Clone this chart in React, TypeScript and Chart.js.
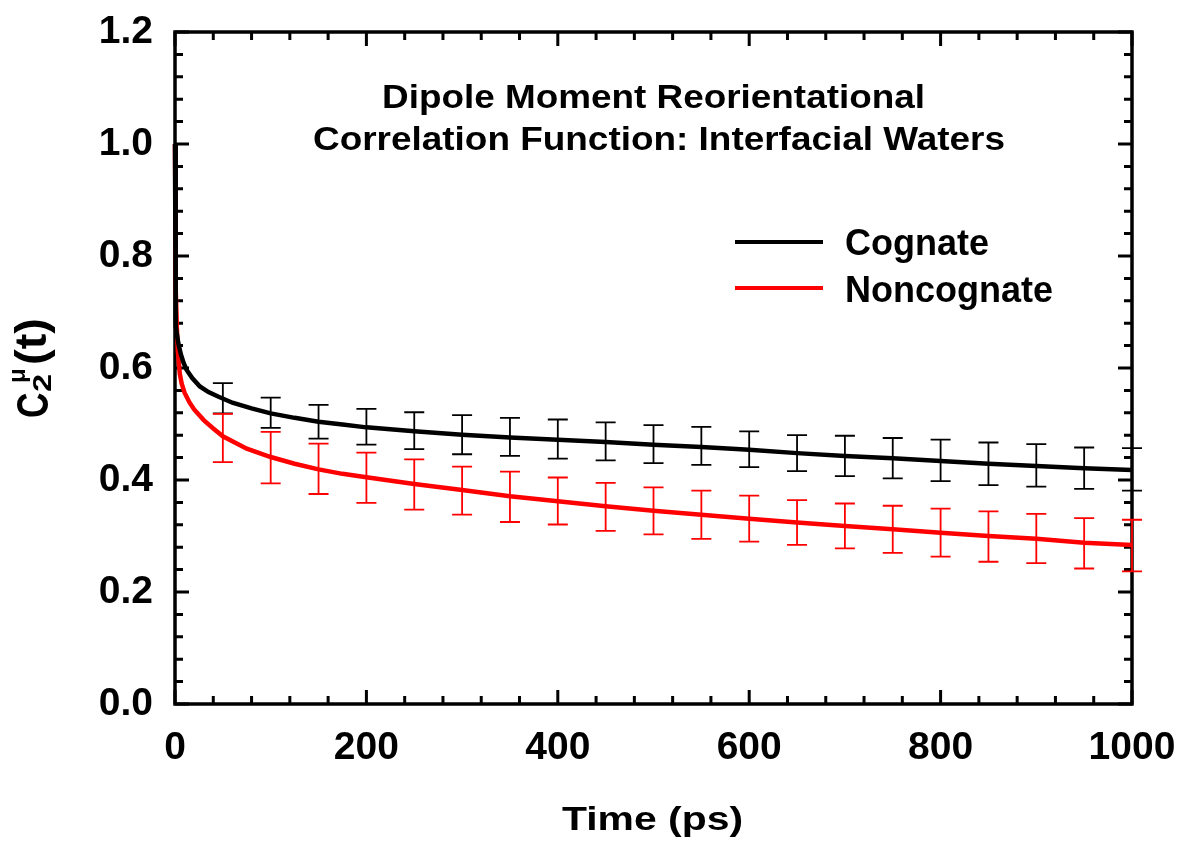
import React, { useEffect, useRef } from "react";
import { Chart, registerables } from "chart.js";

Chart.register(...registerables);

// Continuous curves (time in ps, C2 value)
const cognateTimes = [0, 0.5, 1, 2, 3.5, 6, 9, 12, 18, 26, 35, 45, 60, 80, 100, 125, 150, 175, 200, 250, 300, 350, 400, 450, 500, 550, 600, 650, 700, 750, 800, 850, 900, 950, 1000];
const cognateValues = [1.0, 0.72, 0.675, 0.66, 0.644, 0.625, 0.609, 0.597, 0.582, 0.567, 0.557, 0.549, 0.538, 0.528, 0.519, 0.511, 0.504, 0.499, 0.494, 0.487, 0.481, 0.476, 0.472, 0.468, 0.463, 0.459, 0.454, 0.448, 0.443, 0.439, 0.434, 0.429, 0.425, 0.421, 0.418];

const noncognateTimes = [0, 0.5, 1, 2, 3, 5, 7, 10, 15, 20, 30, 40, 50, 75, 100, 125, 150, 175, 200, 250, 300, 350, 400, 450, 500, 550, 600, 650, 700, 750, 800, 850, 900, 950, 1000];
const noncognateValues = [1.0, 0.84, 0.74, 0.67, 0.63, 0.59, 0.572, 0.556, 0.539, 0.526, 0.507, 0.492, 0.478, 0.456, 0.441, 0.429, 0.419, 0.411, 0.405, 0.393, 0.382, 0.371, 0.362, 0.353, 0.345, 0.338, 0.331, 0.324, 0.318, 0.312, 0.306, 0.300, 0.295, 0.288, 0.284];

// Error bars
const errTimes = [50, 100, 150, 200, 250, 300, 350, 400, 450, 500, 550, 600, 650, 700, 750, 800, 850, 900, 950, 1000];
const cognateMean = [0.546, 0.520, 0.504, 0.495, 0.488, 0.481, 0.477, 0.473, 0.469, 0.464, 0.461, 0.455, 0.448, 0.443, 0.439, 0.435, 0.429, 0.426, 0.421, 0.419];
const cognateErr = [0.027, 0.027, 0.030, 0.032, 0.033, 0.035, 0.034, 0.035, 0.034, 0.034, 0.034, 0.032, 0.032, 0.036, 0.036, 0.037, 0.038, 0.038, 0.037, 0.038];
const noncognateMean = [0.475, 0.440, 0.420, 0.404, 0.392, 0.381, 0.370, 0.3625, 0.352, 0.345, 0.338, 0.331, 0.324, 0.318, 0.312, 0.306, 0.299, 0.2955, 0.287, 0.283];
const noncognateErr = [0.043, 0.046, 0.045, 0.045, 0.045, 0.043, 0.045, 0.042, 0.043, 0.042, 0.043, 0.041, 0.040, 0.040, 0.042, 0.043, 0.045, 0.044, 0.045, 0.046];

const seriesNames = ["Cognate", "Noncognate"];
const seriesColors = ["#000000", "#ff0000"];
const titleLines = ["Dipole Moment Reorientational", "Correlation Function: Interfacial Waters"];
const xTitle = "Time (ps)";

const X_MIN = 0, X_MAX = 1000, X_MAJOR = 200, X_MINOR = 40;
const Y_MIN = 0, Y_MAX = 1.2, Y_MAJOR = 0.2, Y_MINOR = 0.04;

const FONT = '"Liberation Sans", Arial, Helvetica, sans-serif';

function drawScaledText(ctx: CanvasRenderingContext2D, text: string, x: number, y: number, size: number, align: CanvasTextAlign, targetWidth?: number) {
  ctx.save();
  ctx.font = `bold ${size}px ${FONT}`;
  ctx.textBaseline = "alphabetic";
  ctx.textAlign = align;
  const w = ctx.measureText(text).width;
  const sx = targetWidth ? targetWidth / w : 1;
  ctx.translate(x, y);
  ctx.scale(sx, 1);
  ctx.fillStyle = "#000";
  ctx.fillText(text, 0, 0);
  ctx.restore();
}

const decorPlugin = {
  id: "decor",
  beforeDatasetsDraw(chart: any) {
    const ctx: CanvasRenderingContext2D = chart.ctx;
    const { left, right, top, bottom } = chart.chartArea;
    const xs = chart.scales.x;
    const ys = chart.scales.y;
    ctx.save();
    ctx.strokeStyle = "#000";
    ctx.lineWidth = 3;
    ctx.lineCap = "butt";
    const nX = Math.round((X_MAX - X_MIN) / X_MINOR);
    for (let i = 0; i <= nX; i++) {
      const v = X_MIN + i * X_MINOR;
      const major = Math.abs(v % X_MAJOR) < 1e-6;
      const len = major ? 14 : 8;
      const px = xs.getPixelForValue(v);
      ctx.beginPath();
      ctx.moveTo(px, bottom);
      ctx.lineTo(px, bottom - len);
      ctx.moveTo(px, top);
      ctx.lineTo(px, top + len);
      ctx.stroke();
    }
    const nY = Math.round((Y_MAX - Y_MIN) / Y_MINOR);
    const per = Math.round(Y_MAJOR / Y_MINOR);
    for (let i = 0; i <= nY; i++) {
      const v = Y_MIN + i * Y_MINOR;
      const major = i % per === 0;
      const len = major ? 14 : 8;
      const py = ys.getPixelForValue(v);
      ctx.beginPath();
      ctx.moveTo(left, py);
      ctx.lineTo(left + len, py);
      ctx.moveTo(right, py);
      ctx.lineTo(right - len, py);
      ctx.stroke();
    }
    ctx.lineWidth = 3.5;
    ctx.strokeRect(left, top, right - left, bottom - top);
    ctx.restore();
  },
  afterDatasetsDraw(chart: any) {
    const ctx: CanvasRenderingContext2D = chart.ctx;
    const xs = chart.scales.x;
    const ys = chart.scales.y;
    const groups = [
      { mean: cognateMean, err: cognateErr, color: seriesColors[0] },
      { mean: noncognateMean, err: noncognateErr, color: seriesColors[1] },
    ];
    ctx.save();
    for (const g of groups) {
      ctx.strokeStyle = g.color;
      ctx.lineWidth = 1.8;
      errTimes.forEach((t, i) => {
        const px = xs.getPixelForValue(t);
        const y1 = ys.getPixelForValue(g.mean[i] + g.err[i]);
        const y2 = ys.getPixelForValue(g.mean[i] - g.err[i]);
        ctx.beginPath();
        ctx.moveTo(px, y1);
        ctx.lineTo(px, y2);
        ctx.moveTo(px - 10, y1);
        ctx.lineTo(px + 10, y1);
        ctx.moveTo(px - 10, y2);
        ctx.lineTo(px + 10, y2);
        ctx.stroke();
      });
    }
    ctx.restore();

    // Legend
    ctx.save();
    const legendY = [242, 288];
    const legendBase = [255, 302];
    seriesNames.forEach((name, i) => {
      ctx.strokeStyle = seriesColors[i];
      ctx.lineWidth = 4;
      ctx.beginPath();
      ctx.moveTo(735, legendY[i]);
      ctx.lineTo(823, legendY[i]);
      ctx.stroke();
      drawScaledText(ctx, name, 845, legendBase[i], 36, "left");
    });
    ctx.restore();

    // Title inside plot
    drawScaledText(ctx, titleLines[0], 653.5, 108, 33, "center", 543);
    drawScaledText(ctx, titleLines[1], 659, 150, 33, "center", 692);

    // X axis title
    drawScaledText(ctx, xTitle, 652.5, 830, 33, "center", 181);

    // Y axis title: C2^mu(t), rotated
    ctx.save();
    ctx.fillStyle = "#000";
    ctx.textBaseline = "alphabetic";
    ctx.textAlign = "left";
    const piece = (text: string, baseX: number, startY: number, size: number, along: number) => {
      ctx.save();
      ctx.font = `bold ${size}px ${FONT}`;
      ctx.translate(baseX, startY);
      ctx.rotate(-Math.PI / 2);
      ctx.scale(along, 1);
      ctx.fillText(text, 0, 0);
      ctx.restore();
    };
    piece("C", 48, 418, 44, 0.8);
    piece("2", 51, 392, 26, 1.25);
    piece("\u03bc", 25, 383, 24, 1.0);
    piece("(t)", 46, 365, 44, 1.07);
    ctx.restore();
  },
};

function zeroPad(s: any) {
  s.paddingTop = 0;
  s.paddingBottom = 0;
  s.paddingLeft = 0;
  s.paddingRight = 0;
}

export default function App() {
  const ref = useRef<HTMLCanvasElement | null>(null);
  useEffect(() => {
    if (!ref.current) return;
    const chart = new Chart(ref.current, {
      type: "line",
      data: {
        datasets: [
          {
            label: seriesNames[0],
            data: cognateTimes.map((t, i) => ({ x: t, y: cognateValues[i] })),
            borderColor: seriesColors[0],
            borderWidth: 4.5,
            pointRadius: 0,
            tension: 0,
            fill: false,
            clip: 6,
          },
          {
            label: seriesNames[1],
            data: noncognateTimes.map((t, i) => ({ x: t, y: noncognateValues[i] })),
            borderColor: seriesColors[1],
            borderWidth: 4.5,
            pointRadius: 0,
            tension: 0,
            fill: false,
            clip: 6,
          },
        ],
      },
      options: {
        responsive: false,
        animation: false,
        devicePixelRatio: 1,
        layout: { padding: { left: 0, top: 32, right: 53, bottom: 0 } },
        plugins: { legend: { display: false }, tooltip: { enabled: false }, title: { display: false } },
        scales: {
          x: {
            type: "linear",
            min: X_MIN,
            max: X_MAX,
            grid: { display: false, drawTicks: false },
            border: { display: false },
            ticks: {
              stepSize: X_MAJOR,
              autoSkip: false,
              maxRotation: 0,
              color: "#000",
              padding: 21,
              font: { family: FONT, size: 39, weight: "bold" },
              callback: (v: any) => String(v),
            },
            afterFit: (s: any) => { s.height = 144; zeroPad(s); },
          },
          y: {
            type: "linear",
            min: Y_MIN,
            max: Y_MAX,
            grid: { display: false, drawTicks: false },
            border: { display: false },
            ticks: {
              stepSize: Y_MAJOR,
              autoSkip: false,
              color: "#000",
              padding: 22,
              font: { family: FONT, size: 39, weight: "bold" },
              callback: (v: any) => Number(v).toFixed(1),
            },
            afterFit: (s: any) => { s.width = 175; zeroPad(s); },
          },
        },
      },
      plugins: [decorPlugin],
    } as any);
    return () => chart.destroy();
  }, []);
  return (
    <div style={{ position: "fixed", left: 0, top: 0, width: 1185, height: 848, background: "#fff" }}>
      <canvas ref={ref} width={1185} height={848} style={{ display: "block" }} />
    </div>
  );
}
